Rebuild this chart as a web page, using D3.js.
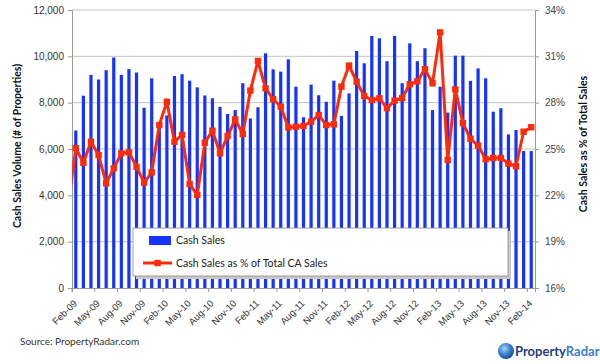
<!DOCTYPE html>
<html>
<head>
<meta charset="utf-8">
<script src="https://cdn.jsdelivr.net/npm/d3@7"></script>
<style>
    body { margin: 0; background: #fff; }
    svg { display: block; font-family: Lato, "Open Sans", sans-serif; }
</style>
</head>
<body>
<div id="chart"></div>
<script>
const months = [
    "Feb-09","Mar-09","Apr-09","May-09","Jun-09","Jul-09","Aug-09","Sep-09","Oct-09","Nov-09","Dec-09",
    "Jan-10","Feb-10","Mar-10","Apr-10","May-10","Jun-10","Jul-10","Aug-10","Sep-10","Oct-10","Nov-10","Dec-10",
    "Jan-11","Feb-11","Mar-11","Apr-11","May-11","Jun-11","Jul-11","Aug-11","Sep-11","Oct-11","Nov-11","Dec-11",
    "Jan-12","Feb-12","Mar-12","Apr-12","May-12","Jun-12","Jul-12","Aug-12","Sep-12","Oct-12","Nov-12","Dec-12",
    "Jan-13","Feb-13","Mar-13","Apr-13","May-13","Jun-13","Jul-13","Aug-13","Sep-13","Oct-13","Nov-13","Dec-13",
    "Jan-14","Feb-14"
];

// cash sales volume (# of properties)
const cashSales = [
    6800, 8300, 9200, 9000, 9400, 9950, 9200, 9450, 9300, 7780, 9050,
    7050, 7450, 9150, 9230, 8950, 8660, 8310, 8190, 7820, 7510, 7680, 8840,
    7320, 7800, 10130, 9440, 9340, 9870, 8690, 7370, 8780, 8320, 8040, 8950,
    7430, 8400, 10230, 9700, 10880, 10780, 9790, 10880, 8840, 10560, 9790, 10350,
    7680, 8690, 7570, 10030, 10030, 8940, 9480, 9050, 7610, 7760, 6630, 6820,
    5910, 5910
];

// cash sales as % of total CA sales
const cashPct = [
    25.05, 24.11, 25.47, 24.61, 22.78, 23.75, 24.72, 24.78, 23.85, 22.82, 23.49,
    26.55, 28.06, 25.47, 25.91, 22.73, 22.02, 25.41, 26.19, 24.72, 25.84, 26.92, 25.97,
    28.78, 30.70, 28.93, 28.22, 27.74, 26.40, 26.44, 26.49, 26.77, 27.20, 26.55, 26.60,
    29.04, 30.40, 29.36, 28.43, 28.17, 28.28, 27.64, 28.13, 28.30, 29.19, 29.38, 30.17,
    29.25, 32.55, 24.29, 28.86, 26.68, 25.66, 25.22, 24.34, 24.42, 24.42, 24.05, 23.88,
    26.12, 26.41
];
// the line comes in from a Jan-09 value that sits just left of the plot edge
const pctJan09 = 21.4;

const volTicks = [0, 2000, 4000, 6000, 8000, 10000, 12000];
const pctTicks = [16, 19, 22, 25, 28, 31, 34];
const monthTicks = months.filter((d, i) => i % 3 === 0);

const WIDTH = 600, HEIGHT = 364;
const PLOT_LEFT = 72, PLOT_RIGHT = 535, PLOT_TOP = 10, PLOT_BOTTOM = 288;
const BAR_WIDTH = 3.2;
const BLUE = "#1733ff";
const RED = "#ff2a0a";
const AXIS_GREY = "#9a9a9a";

const svg = d3.select("#chart")
    .append("svg")
    .attr("width", WIDTH)
    .attr("height", HEIGHT);

const x = d3.scaleBand()
    .domain(months)
    .range([PLOT_LEFT, PLOT_RIGHT])
    .padding(0);
const step = x.step();
const xc = d => x(d) + step / 2;

const yL = d3.scaleLinear().domain([0, 12000]).range([PLOT_BOTTOM, PLOT_TOP]);
const yR = d3.scaleLinear().domain([16, 34]).range([PLOT_BOTTOM, PLOT_TOP]);

// gridlines
svg.append("g")
    .selectAll("line")
    .data(volTicks.slice(1))
    .join("line")
    .attr("x1", PLOT_LEFT)
    .attr("x2", PLOT_RIGHT)
    .attr("y1", d => yL(d))
    .attr("y2", d => yL(d))
    .attr("stroke", "#c4c4c4")
    .attr("stroke-width", 1);

// bars
svg.append("g")
    .selectAll("rect")
    .data(months)
    .join("rect")
    .attr("x", d => xc(d) - BAR_WIDTH / 2)
    .attr("y", (d, i) => yL(cashSales[i]))
    .attr("width", BAR_WIDTH)
    .attr("height", (d, i) => PLOT_BOTTOM - yL(cashSales[i]))
    .attr("fill", BLUE);

// left axis
const leftAxis = svg.append("g")
    .attr("transform", `translate(${PLOT_LEFT},0)`)
    .call(d3.axisLeft(yL).tickValues(volTicks).tickFormat(d3.format(",")).tickSize(4).tickPadding(4));
leftAxis.selectAll("line, path").attr("stroke", AXIS_GREY);
leftAxis.selectAll("text").attr("fill", "#333").style("font-size", "10px");

// right axis
const rightAxis = svg.append("g")
    .attr("transform", `translate(${PLOT_RIGHT},0)`)
    .call(d3.axisRight(yR).tickValues(pctTicks).tickFormat(d => d + "%").tickSize(4).tickPadding(6));
rightAxis.selectAll("line, path").attr("stroke", AXIS_GREY);
rightAxis.selectAll("text").attr("fill", "#444").style("font-size", "10px");

// bottom axis, ticks on category boundaries, labels on centres
const bottomAxis = svg.append("g")
    .attr("transform", `translate(0,${PLOT_BOTTOM})`)
    .call(d3.axisBottom(x).tickValues(monthTicks).tickSize(4));
bottomAxis.selectAll("path").attr("stroke", AXIS_GREY);
bottomAxis.selectAll(".tick line")
    .attr("x1", -step / 2)
    .attr("x2", -step / 2)
    .attr("stroke", AXIS_GREY);
bottomAxis.selectAll("text")
    .attr("x", -10)
    .attr("y", 9.3)
    .attr("dy", "0.35em")
    .attr("transform", "rotate(-45)")
    .style("text-anchor", "end")
    .style("font-size", "9.5px")
    .attr("fill", "#333");

// red line
svg.append("clipPath")
    .attr("id", "plot-clip")
    .append("rect")
    .attr("x", PLOT_LEFT)
    .attr("y", 0)
    .attr("width", PLOT_RIGHT - PLOT_LEFT)
    .attr("height", PLOT_BOTTOM);

const linePoints = [[xc(months[0]) - step, yR(pctJan09)]]
    .concat(months.map((d, i) => [xc(d), yR(cashPct[i])]));

svg.append("path")
    .attr("d", d3.line()(linePoints))
    .attr("clip-path", "url(#plot-clip)")
    .attr("fill", "none")
    .attr("stroke", RED)
    .attr("stroke-width", 3)
    .attr("stroke-linejoin", "round");

svg.append("g")
    .selectAll("rect")
    .data(months)
    .join("rect")
    .attr("x", d => xc(d) - 3.2)
    .attr("y", (d, i) => yR(cashPct[i]) - 3.2)
    .attr("width", 6.4)
    .attr("height", 6.4)
    .attr("fill", RED);

// axis titles
svg.append("text")
    .attr("transform", "translate(21,146) rotate(-90)")
    .attr("text-anchor", "middle")
    .style("font-size", "10.5px")
    .style("font-weight", "bold")
    .attr("fill", "#111")
    .text("Cash Sales Volume (# of Properties)");

svg.append("text")
    .attr("transform", "translate(587,144) rotate(-90)")
    .attr("text-anchor", "middle")
    .style("font-size", "10.5px")
    .style("font-weight", "bold")
    .attr("fill", "#111")
    .text("Cash Sales as % of Total Sales");

// legend
const legend = svg.append("g");
legend.append("rect")
    .attr("x", 136).attr("y", 231).attr("width", 375).attr("height", 48)
    .attr("fill", "#c8c8c8");
legend.append("rect")
    .attr("x", 133).attr("y", 228).attr("width", 375).attr("height", 48)
    .attr("fill", "#fff").attr("stroke", "#8a8a8a").attr("stroke-width", 0.8);
legend.append("rect")
    .attr("x", 149).attr("y", 236).attr("width", 22).attr("height", 9)
    .attr("fill", BLUE);
legend.append("text")
    .attr("x", 176).attr("y", 244)
    .style("font-size", "10.5px").attr("fill", "#222")
    .text("Cash Sales");
legend.append("line")
    .attr("x1", 143).attr("x2", 172).attr("y1", 263).attr("y2", 263)
    .attr("stroke", RED).attr("stroke-width", 3);
legend.append("rect")
    .attr("x", 154.3).attr("y", 259.8).attr("width", 6.4).attr("height", 6.4)
    .attr("fill", RED);
legend.append("text")
    .attr("x", 176).attr("y", 267)
    .style("font-size", "10.5px").attr("fill", "#222")
    .text("Cash Sales as % of Total CA Sales");

// source
svg.append("text")
    .attr("x", 20).attr("y", 345)
    .style("font-size", "10px").attr("fill", "#333")
    .text("Source: PropertyRadar.com");

// logo
const grad = svg.append("defs").append("radialGradient")
    .attr("id", "globe").attr("cx", "40%").attr("cy", "35%").attr("r", "65%");
grad.append("stop").attr("offset", "0%").attr("stop-color", "#a9d4f5");
grad.append("stop").attr("offset", "55%").attr("stop-color", "#3c86cf");
grad.append("stop").attr("offset", "100%").attr("stop-color", "#174d96");
svg.append("circle")
    .attr("cx", 506).attr("cy", 351).attr("r", 8)
    .attr("fill", "url(#globe)");
const logoText = svg.append("text")
    .attr("x", 515).attr("y", 356)
    .style("font-size", "13px").style("font-weight", "bold");
logoText.append("tspan").attr("fill", "#1f3f7e").text("Property");
logoText.append("tspan").attr("fill", "#3b7cc6").text("Radar");
</script>
</body>
</html>
